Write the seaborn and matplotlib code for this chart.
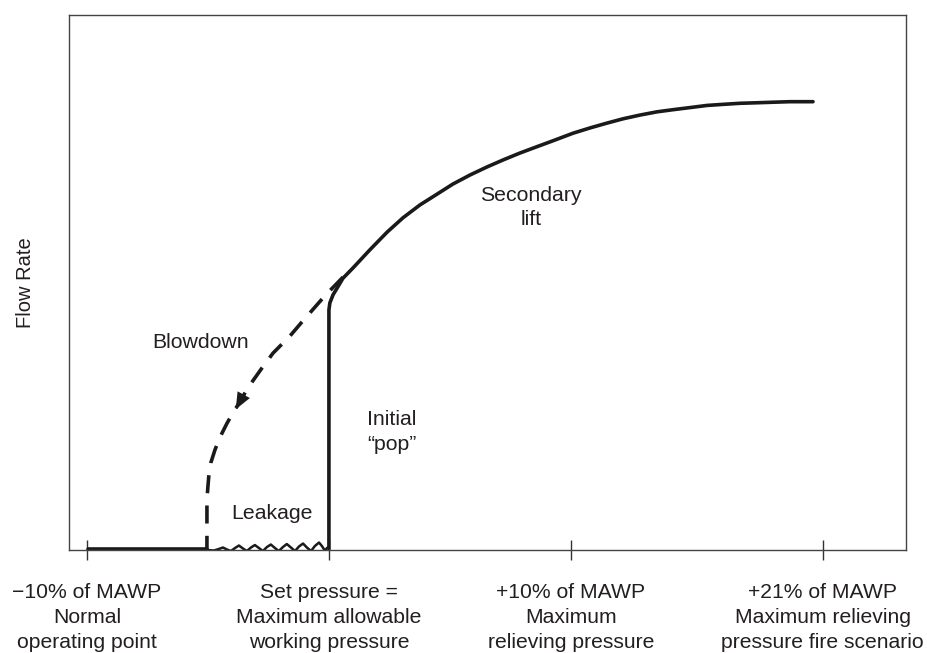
import numpy as np
import seaborn as sns
import matplotlib.pyplot as plt

# x: position along pressure axis (% of MAWP, schematic), y: flow rate (0-100, schematic)
base_x = [-9.96, -5.04]
base_y = [0.2, 0.2]

leak_x = [-5.04, -4.75, -4.55, -4.38, -4.21, -4.05, -3.88, -3.72, -3.55, -3.39,
          -3.22, -3.06, -2.89, -2.73, -2.56, -2.40, -2.23, -2.07, -1.90, -1.74,
          -1.57, -1.40, -1.24, -1.07, -0.91, -0.74, -0.58, -0.41, -0.29, -0.17,
          -0.08, 0.0]
leak_y = [0.0, -0.09, 0.19, 0.47, 0.09, -0.19, 0.37, 0.84, 0.28, -0.19,
          0.47, 0.93, 0.37, -0.19, 0.56, 1.03, 0.37, -0.19, 0.56, 1.12,
          0.47, -0.19, 0.65, 1.21, 0.47, -0.19, 0.75, 1.40, 0.75, -0.09,
          0.37, 0.56]

lift_x = [0.0, 0.0, 0.04, 0.17, 0.37, 0.58, 0.99, 1.69, 2.40, 3.06, 3.76, 4.46,
          5.12, 5.83, 6.53, 7.19, 7.89, 8.60, 9.26, 10.08, 10.79, 11.49, 12.15,
          12.85, 13.55, 14.21, 14.92, 15.62, 16.28, 16.98, 17.69, 18.35, 19.05, 20.0]
lift_y = [0.2, 44.9, 46.2, 47.7, 49.2, 50.8, 52.7, 56.1, 59.4, 62.1, 64.5, 66.5,
          68.4, 70.1, 71.6, 72.9, 74.2, 75.4, 76.5, 77.9, 78.9, 79.8, 80.6,
          81.3, 81.9, 82.3, 82.7, 83.1, 83.3, 83.5, 83.6, 83.7, 83.8, 83.8]

blow_x = [0.58, -0.17, -0.79, -1.12, -1.61, -2.31, -2.77, -3.35, -3.68, -3.97,
          -4.21, -4.50, -4.71, -4.88, -4.96, -5.0, -5.04, -5.04]
blow_y = [51.0, 47.5, 44.3, 42.6, 40.0, 36.8, 34.0, 30.3, 27.7, 25.6,
          23.7, 21.1, 18.7, 16.3, 14.0, 11.8, 9.4, 0.2]

tick_pos = [-10, 0, 10, 20.4]
tick_labels = ["\u221210% of MAWP\nNormal\noperating point",
               "Set pressure =\nMaximum allowable\nworking pressure",
               "+10% of MAWP\nMaximum\nrelieving pressure",
               "+21% of MAWP\nMaximum relieving\npressure fire scenario"]

sns.set_theme(style="white")
plt.rcParams['font.family'] = ['Liberation Sans', 'DejaVu Sans']

fig = plt.figure(figsize=(9.27, 6.53), dpi=100)
ax = fig.add_axes([0.0744, 0.1577, 0.9029, 0.8193])

lw = 2.6
tc = '#231f20'
sns.lineplot(x=base_x, y=base_y, sort=False, estimator=None, color='k', lw=lw, ax=ax)
sns.lineplot(x=leak_x, y=leak_y, sort=False, estimator=None, color='k', lw=1.8, ax=ax)
sns.lineplot(x=lift_x, y=lift_y, sort=False, estimator=None, color='k', lw=lw, ax=ax)
sns.lineplot(x=blow_x, y=blow_y, sort=False, estimator=None, color='k', lw=lw,
             linestyle=(0, (5.0, 3.4)), ax=ax)

# direction arrow on blowdown line
ax.annotate('', xy=(-3.85, 26.3), xytext=(-3.50, 29.2),
            arrowprops=dict(arrowstyle='-|>,head_length=1.0,head_width=0.42',
                            color='k', lw=0, shrinkA=0, shrinkB=0))

ax.set_xlim(-10.74, 23.84)
ax.set_ylim(0, 100)

fs = 15.3
ax.text(-7.31, 38.7, "Blowdown", fontsize=fs, ha='left', va='center', color=tc)
ax.text(8.35, 64.0, "Secondary\nlift", fontsize=fs, ha='center', va='center',
        color=tc, linespacing=1.3)
ax.text(2.6, 22.1, "Initial\n\u201cpop\u201d", fontsize=fs, ha='center', va='center',
        color=tc, linespacing=1.4)
ax.text(-2.36, 6.9, "Leakage", fontsize=fs, ha='center', va='center', color=tc)

ax.set_xticks(tick_pos)
ax.set_xticklabels(tick_labels, fontsize=15.2, linespacing=1.38, color=tc)
ax.set_yticks([])
ax.tick_params(axis='x', direction='inout', length=14, width=1, color='#333333',
               pad=17, bottom=True)
ax.set_ylabel("Flow Rate", fontsize=14.5, color=tc)
ax.yaxis.set_label_coords(-0.0406, 0.5)
ax.set_xlabel("")

for s in ax.spines.values():
    s.set_color('#444444')
    s.set_linewidth(1.0)

fig.savefig("out.png", dpi=100)
